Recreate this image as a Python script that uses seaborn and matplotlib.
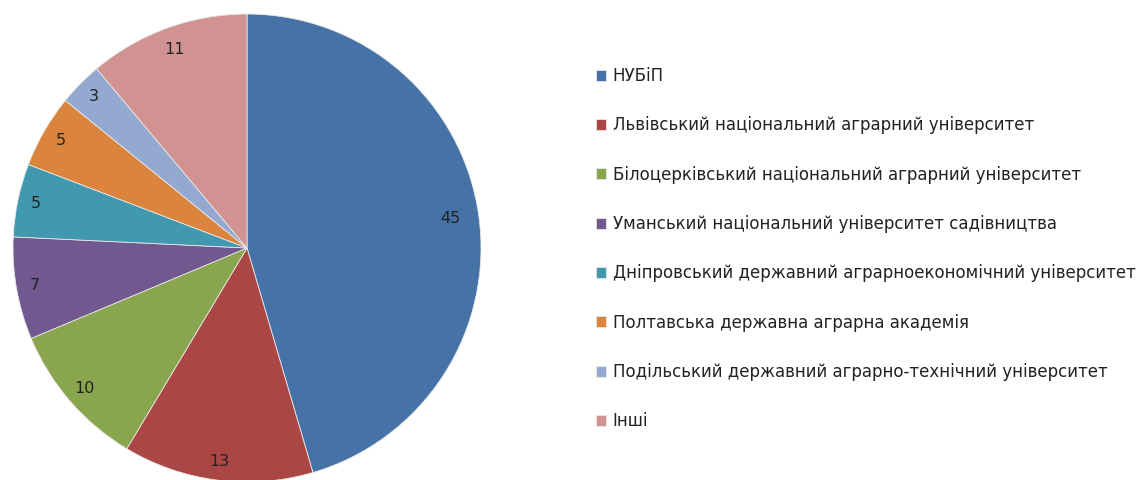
import matplotlib
matplotlib.use("Agg")
import matplotlib.pyplot as plt
import seaborn as sns

categories = [
    "НУБіП",
    "Львівський національний аграрний університет",
    "Білоцерківський національний аграрний університет",
    "Уманський національний університет садівництва",
    "Дніпровський державний аграрноекономічний університет",
    "Полтавська державна аграрна академія",
    "Подільський державний аграрно-технічний університет",
    "Інші",
]
values = [45, 13, 10, 7, 5, 5, 3, 11]
colors_hex = ["#4572A7", "#AA4643", "#89A54E", "#71588F",
              "#4198AF", "#DB843D", "#93A9CF", "#D19392"]

sns.set_theme(style="white")
plt.rcParams["font.family"] = ["DejaVu Sans"]
palette = sns.color_palette(colors_hex)

W, H = 1141, 480
fig = plt.figure(figsize=(W / 100, H / 100), dpi=100)
cx, cy, r = 247, 248, 234
ax = fig.add_axes([(cx - r) / W, (H - cy - r) / H, 2 * r / W, 2 * r / H])

wedges, texts = ax.pie(
    values, colors=palette, startangle=90, counterclock=False,
    labels=[str(v) for v in values], labeldistance=0.92,
    wedgeprops=dict(edgecolor="#e8e8e8", linewidth=0.6),
    textprops=dict(fontsize=11.5, color="#222222", ha="center", va="center"),
)
for t, k in ((texts[0], 0.955), (texts[-1], 0.98)):
    x0, y0 = t.get_position()
    t.set_position((x0 * k, y0 * k))
ax.set_xlim(-1, 1)
ax.set_ylim(-1, 1)
ax.set_aspect("equal")
ax.axis("off")

fig.legend(
    wedges, categories, loc="upper left",
    bbox_to_anchor=(596 / W, 1 - 67 / H), frameon=False,
    fontsize=12, handlelength=0.62, handleheight=0.62, handletextpad=0.38,
    labelspacing=1.88, borderpad=0, borderaxespad=0, labelcolor="#222222",
)

fig.savefig("out.png", dpi=100)
